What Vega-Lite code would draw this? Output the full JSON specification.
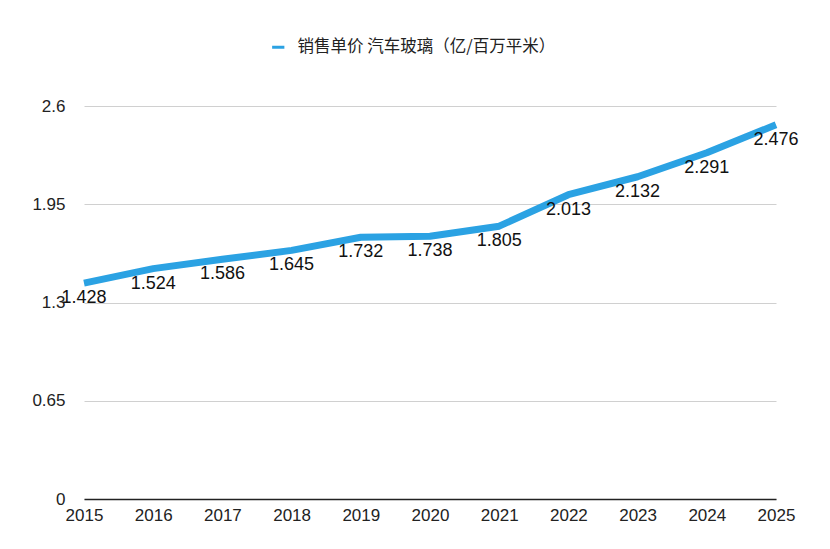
{
  "$schema": "https://vega.github.io/schema/vega-lite/v6.json",
  "autosize": {"type": "none"},
  "width": 692,
  "height": 393,
  "padding": {"left": 84, "top": 106, "right": 54, "bottom": 50},
  "background": "white",
  "config": {
    "view": {"stroke": null},
    "font": "Liberation Sans",
    "axis": {"labelFont": "Liberation Sans", "labelColor": "#222", "labelFontSize": 17}
  },
  "data": {
    "values": [
      {"year": "2015", "value": 1.428, "series": "销售单价 汽车玻璃（亿/百万平米）"},
      {"year": "2016", "value": 1.524, "series": "销售单价 汽车玻璃（亿/百万平米）"},
      {"year": "2017", "value": 1.586, "series": "销售单价 汽车玻璃（亿/百万平米）"},
      {"year": "2018", "value": 1.645, "series": "销售单价 汽车玻璃（亿/百万平米）"},
      {"year": "2019", "value": 1.732, "series": "销售单价 汽车玻璃（亿/百万平米）"},
      {"year": "2020", "value": 1.738, "series": "销售单价 汽车玻璃（亿/百万平米）"},
      {"year": "2021", "value": 1.805, "series": "销售单价 汽车玻璃（亿/百万平米）"},
      {"year": "2022", "value": 2.013, "series": "销售单价 汽车玻璃（亿/百万平米）"},
      {"year": "2023", "value": 2.132, "series": "销售单价 汽车玻璃（亿/百万平米）"},
      {"year": "2024", "value": 2.291, "series": "销售单价 汽车玻璃（亿/百万平米）"},
      {"year": "2025", "value": 2.476, "series": "销售单价 汽车玻璃（亿/百万平米）"}
    ]
  },
  "encoding": {
    "x": {
      "field": "year", "type": "ordinal",
      "scale": {"type": "point", "padding": 0},
      "axis": {"title": null, "labelAngle": 0, "ticks": false, "domainColor": "#222", "domainWidth": 1.5, "labelPadding": 8, "grid": false}
    },
    "y": {
      "field": "value", "type": "quantitative",
      "scale": {"domain": [0, 2.6], "nice": false},
      "axis": {"title": null, "values": [0, 0.65, 1.3, 1.95, 2.6], "labelExpr": "format(datum.value, '.2~f')", "domain": false, "ticks": false, "gridColor": "#d0d0d0", "gridWidth": 1, "labelPadding": 19}
    }
  },
  "layer": [
    {
      "mark": {"type": "line", "strokeWidth": 7, "strokeCap": "butt", "strokeJoin": "round"},
      "encoding": {
        "color": {
          "field": "series", "type": "nominal",
          "scale": {"range": ["#2ba2e3"]},
          "legend": {
            "title": null, "orient": "none", "legendX": 186, "legendY": -67,
            "labelFont": "Noto Sans CJK SC", "labelFontSize": 16.5, "labelColor": "#222", "labelLimit": 500,
            "symbolType": "stroke", "symbolStrokeWidth": 3, "symbolSize": 150, "labelOffset": 11
          }
        }
      }
    },
    {
      "mark": {"type": "text", "dy": 15, "fontSize": 18, "color": "#111", "align": "center", "baseline": "middle"},
      "encoding": {"text": {"field": "value", "type": "quantitative", "format": ".3f"}}
    }
  ]
}
